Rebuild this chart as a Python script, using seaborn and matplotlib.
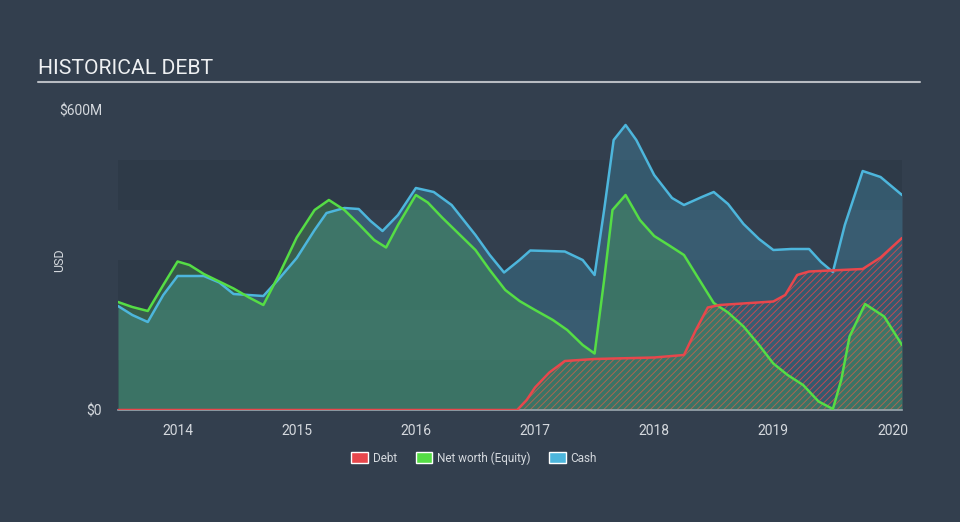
import matplotlib
matplotlib.use("Agg")
import matplotlib.pyplot as plt
import seaborn as sns
import pandas as pd
from matplotlib.patches import Patch

# ---- data (USD millions, x in decimal years) ----
cash_x = [2013.50, 2013.62, 2013.75, 2013.88, 2014.00, 2014.22, 2014.35, 2014.47, 2014.72, 2014.85,
          2015.00, 2015.15, 2015.25, 2015.40, 2015.52, 2015.62, 2015.72, 2015.85, 2016.00, 2016.15,
          2016.30, 2016.50, 2016.62, 2016.74, 2016.87, 2016.96, 2017.25, 2017.40, 2017.50, 2017.58,
          2017.66, 2017.76, 2017.85, 2018.00, 2018.15, 2018.25, 2018.40, 2018.50, 2018.62, 2018.75,
          2018.88, 2019.00, 2019.15, 2019.30, 2019.40, 2019.50, 2019.60, 2019.75, 2019.90, 2020.08]
cash_y = [208, 190, 176, 230, 268, 268, 255, 232, 228, 262,
          304, 360, 394, 404, 402, 378, 358, 390, 444, 436,
          410, 350, 310, 275, 300, 319, 317, 300, 270, 400,
          540, 570, 540, 470, 424, 410, 426, 436, 412, 372,
          342, 320, 322, 322, 296, 276, 370, 478, 466, 430]

nw_x = [2013.50, 2013.62, 2013.75, 2013.88, 2014.00, 2014.10, 2014.22, 2014.47, 2014.60, 2014.72,
        2014.85, 2015.00, 2015.15, 2015.27, 2015.40, 2015.52, 2015.65, 2015.75, 2015.85, 2016.00,
        2016.10, 2016.22, 2016.50, 2016.62, 2016.75, 2016.87, 2017.00, 2017.15, 2017.27, 2017.40,
        2017.50, 2017.58, 2017.65, 2017.76, 2017.88, 2018.00, 2018.12, 2018.25, 2018.38, 2018.50,
        2018.62, 2018.75, 2018.88, 2019.00, 2019.12, 2019.25, 2019.38, 2019.50, 2019.57, 2019.64,
        2019.77, 2019.93, 2020.08]
nw_y = [216, 206, 198, 250, 297, 290, 272, 243, 225, 210,
        270, 345, 400, 420, 400, 372, 340, 325, 370, 430,
        415, 385, 320, 280, 240, 218, 200, 180, 160, 130,
        113, 260, 400, 430, 380, 348, 330, 310, 260, 214,
        195, 167, 130, 93, 70, 50, 17, 2, 60, 147,
        212, 187, 130]

debt_x = [2013.50, 2016.85, 2016.93, 2017.00, 2017.12, 2017.25, 2017.50, 2018.00, 2018.25, 2018.35,
          2018.45, 2018.55, 2019.00, 2019.10, 2019.20, 2019.30, 2019.75, 2019.90, 2020.08]
debt_y = [0, 0, 20, 45, 75, 98, 102, 105, 110, 160,
          205, 210, 217, 230, 270, 277, 282, 305, 344]

year_ticks = [2014, 2015, 2016, 2017, 2018, 2019, 2020]
y_ticks = [0, 600]
y_labels = ["$0", "$600M"]
bands = [(0, 100), (200, 300), (400, 500)]

# ---- style ----
BG = "#333f4e"
BAND = "#2e3a48"
TXT = "#d5d9de"
C_DEBT = "#e8474c"
C_NW = "#55dd45"
C_CASH = "#4db6dc"

sns.set_theme(style="white")
plt.rcParams["font.family"] = ["Roboto", "DejaVu Sans"]
plt.rcParams["hatch.linewidth"] = 0.7

fig = plt.figure(figsize=(9.6, 5.22), dpi=100, facecolor=BG)
ax = fig.add_axes([118 / 960, 1 - 410 / 522, (902 - 118) / 960, 300 / 522])
ax.set_facecolor("none")

for lo, hi in bands:
    ax.axhspan(lo, hi, color=BAND, zorder=0, lw=0)

df_cash = pd.DataFrame({"x": cash_x, "y": cash_y})
df_nw = pd.DataFrame({"x": nw_x, "y": nw_y})
df_debt = pd.DataFrame({"x": debt_x, "y": debt_y})

ax.fill_between(cash_x, cash_y, 0, color=C_CASH, alpha=0.25, lw=0, zorder=1)
ax.fill_between(debt_x, debt_y, 0, facecolor="none", edgecolor=C_DEBT, alpha=0.75,
                hatch="/////", lw=0, zorder=2)
ax.fill_between(nw_x, nw_y, 0, color=C_NW, alpha=0.2, lw=0, zorder=3)

sns.lineplot(data=df_cash, x="x", y="y", ax=ax, color=C_CASH, lw=1.8, zorder=5)
sns.lineplot(data=df_nw, x="x", y="y", ax=ax, color=C_NW, lw=1.8, zorder=5)
sns.lineplot(data=df_debt, x="x", y="y", ax=ax, color=C_DEBT, lw=1.8, zorder=6)

ax.set_xlim(2013.5, 2020.08)
ax.set_ylim(0, 600)
ax.set_xticks(year_ticks)
ax.set_xticklabels([str(y) for y in year_ticks])
ax.set_yticks(y_ticks)
ax.set_yticklabels(y_labels)
ax.set_xlabel("")
ax.set_ylabel("USD", color=TXT, fontsize=9)
ax.yaxis.set_label_coords(-0.066, 0.5)
ax.tick_params(axis="x", colors="#9aa3ad", length=7, width=1, direction="out",
               labelcolor=TXT, labelsize=10, pad=3)
ax.tick_params(axis="y", length=0, labelcolor=TXT, labelsize=10, pad=11.5)
for s in ["top", "right", "left"]:
    ax.spines[s].set_visible(False)
ax.spines["bottom"].set_color("#9aa3ad")
ax.spines["bottom"].set_linewidth(1.2)
ax.spines["bottom"].set_zorder(4)

# title + underline
fig.text(38 / 960, 1 - 69 / 522, "HISTORICAL DEBT", color="#eef0f2", fontsize=15.2,
         va="center", ha="left")
fig.add_artist(plt.Line2D([38 / 960, 920 / 960], [1 - 82 / 522, 1 - 82 / 522],
                          color="#b8bcc2", lw=1.5))

handles = [Patch(facecolor=C_DEBT, label="Debt"),
           Patch(facecolor=C_NW, label="Net worth (Equity)"),
           Patch(facecolor=C_CASH, label="Cash")]
leg = fig.legend(handles=handles, loc="center", bbox_to_anchor=(0.494, 1 - 458 / 522),
                 ncol=3, frameon=False, fontsize=8.5, handlelength=1.4, handleheight=1.0,
                 columnspacing=1.6, handletextpad=0.4)
for t in leg.get_texts():
    t.set_color(TXT)

fig.savefig("out.png", dpi=100, facecolor=BG)
